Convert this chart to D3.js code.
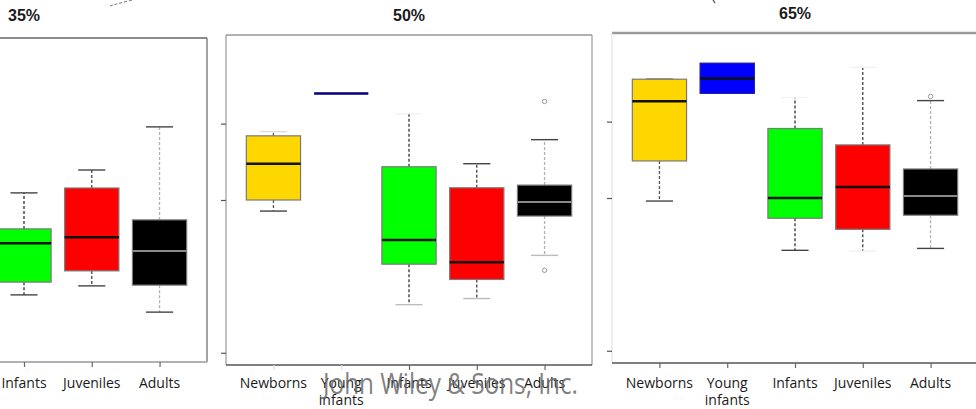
<!DOCTYPE html>
<html>
<head>
<meta charset="utf-8">
<script src="https://cdn.jsdelivr.net/npm/d3@7"></script>
<style>
  html, body { margin: 0; padding: 0; background: #fff; }
  svg { display: block; }
</style>
</head>
<body>
<svg id="chart" width="976" height="409"></svg>
<script>
// ---------------- DATA ----------------
const categories = ["Newborns", "Young infants", "Infants", "Juveniles", "Adults"];
const panelTitles = ["35%", "50%", "65%"];
const yTickValues = [0, 0.4, 0.6];

// 35% panel (first two groups lie outside the cropped picture)
const p35Low  = [null, null, 0.147, 0.171, 0.101];
const p35Q1   = [null, null, 0.181, 0.211, 0.173];
const p35Med  = [null, null, 0.285, 0.301, 0.264];
const p35Q3   = [null, null, 0.323, 0.432, 0.347];
const p35High = [null, null, 0.419, 0.480, 0.595];
const p35Out  = [[], [], [], [], []];

// 50% panel
const p50Low  = [0.371, 0.679, 0.126, 0.142, 0.255];
const p50Q1   = [0.400, 0.679, 0.232, 0.192, 0.358];
const p50Med  = [0.495, 0.679, 0.295, 0.237, 0.395];
const p50Q3   = [0.568, 0.679, 0.487, 0.432, 0.439];
const p50High = [0.579, 0.679, 0.626, 0.495, 0.558];
const p50Out  = [[], [], [], [], [0.658, 0.216]];

// 65% panel
const p65Low  = [0.392, 0.674, 0.263, 0.261, 0.268];
const p65Q1   = [0.497, 0.674, 0.347, 0.318, 0.355];
const p65Med  = [0.653, 0.713, 0.400, 0.429, 0.405];
const p65Q3   = [0.711, 0.753, 0.582, 0.539, 0.476];
const p65High = [0.711, 0.753, 0.663, 0.742, 0.655];
const p65Out  = [[], [], [], [], [0.666]];

const watermark = "John Wiley & Sons, Inc.";

// ---------------- STYLE / LAYOUT ----------------
const fills = ["#FFD700", "#0000FF", "#00FF00", "#FF0000", "#000000"];
const medianColor = ["#111", "#111", "#111", "#111", "#8a8a8a"];
const whiskerColor = ["#555", "#555", "#333", "#444", "#b0b0b0"];

const panels = [
  { title: panelTitles[0], left: -159, right: 207, top: 38, bottom: 362, titleY: 21,
    low: p35Low, q1: p35Q1, med: p35Med, q3: p35Q3, high: p35High, out: p35Out,
    frame: { top: "#666", left: "#666", right: "#666", bottom: "#999", topW: 1.3 } },
  { title: panelTitles[1], left: 226, right: 592, top: 35, bottom: 365, titleY: 21,
    low: p50Low, q1: p50Q1, med: p50Med, q3: p50Q3, high: p50High, out: p50Out,
    frame: { top: "#999", left: "#999", right: "#999", bottom: "#555", topW: 1.3 } },
  { title: panelTitles[2], left: 612, right: 978, top: 33, bottom: 363, titleY: 19,
    low: p65Low, q1: p65Q1, med: p65Med, q3: p65Q3, high: p65High, out: p65Out,
    frame: { top: "#9a9a9a", left: "#e2e2e2", right: "#999", bottom: "#555", topW: 2.5 } }
];

const svg = d3.select("#chart");

panels.forEach((p, pi) => {
  const x = d3.scaleLinear().domain([0.3, categories.length + 0.7]).range([p.left, p.right]);
  const y = d3.scaleLinear().domain([-0.032, 0.832]).range([p.bottom, p.top]);
  const g = svg.append("g");
  const unit = x(2) - x(1);
  const boxW = unit * 0.8;
  const capW = boxW * 0.5;

  // frame
  g.append("line").attr("x1", p.left).attr("x2", p.right).attr("y1", p.top).attr("y2", p.top)
    .attr("stroke", p.frame.top).attr("stroke-width", p.frame.topW);
  g.append("line").attr("x1", p.left).attr("x2", p.left).attr("y1", p.top).attr("y2", p.bottom)
    .attr("stroke", p.frame.left).attr("stroke-width", 1.2);
  g.append("line").attr("x1", p.right).attr("x2", p.right).attr("y1", p.top).attr("y2", p.bottom)
    .attr("stroke", p.frame.right).attr("stroke-width", 1.2);
  g.append("line").attr("x1", p.left).attr("x2", p.right).attr("y1", p.bottom).attr("y2", p.bottom)
    .attr("stroke", p.frame.bottom).attr("stroke-width", 1.4);

  // y axis ticks (labels are cropped away in the reference)
  const yAxis = d3.axisLeft(y).tickValues(yTickValues).tickSize(5).tickFormat("");
  const ya = g.append("g").attr("transform", `translate(${p.left},0)`).call(yAxis);
  ya.select(".domain").remove();
  ya.selectAll(".tick line").attr("stroke", "#555").attr("stroke-width", 1.2);

  // x axis ticks + labels
  const xa = g.append("g").attr("transform", `translate(0,${p.bottom})`)
    .call(d3.axisBottom(x).tickValues(d3.range(1, categories.length + 1)).tickSize(5).tickFormat(""));
  xa.select(".domain").remove();
  xa.selectAll(".tick line").attr("stroke", (d) => (pi === 1 && d <= 2) ? "#ddd" : "#666").attr("stroke-width", 1.2);

  categories.forEach((c, i) => {
    const words = c === "Young infants" ? ["Young", "infants"] : [c];
    const t = g.append("text").attr("x", x(i + 1)).attr("y", 388)
      .attr("text-anchor", "middle").attr("font-family", "Open Sans, sans-serif")
      .attr("font-size", 14).attr("fill", "#1a1a1a");
    words.forEach((w, k) => {
      t.append("tspan").attr("x", x(i + 1)).attr("dy", k === 0 ? 0 : 17).text(w);
    });
  });

  // boxes
  categories.forEach((c, i) => {
    if (p.q1[i] == null) return;
    const cx = x(i + 1);
    // whiskers
    if (p.high[i] > p.q3[i]) {
      g.append("line").attr("x1", cx).attr("x2", cx).attr("y1", y(p.q3[i])).attr("y2", y(p.high[i]))
        .attr("stroke", whiskerColor[i]).attr("stroke-width", 1.3).attr("stroke-dasharray", "3,2");
    }
    if (p.low[i] < p.q1[i]) {
      g.append("line").attr("x1", cx).attr("x2", cx).attr("y1", y(p.q1[i])).attr("y2", y(p.low[i]))
        .attr("stroke", whiskerColor[i]).attr("stroke-width", 1.3).attr("stroke-dasharray", "3,2");
    }
    // caps
    const upperCapFaint = (i === 2 && pi > 0) || (i === 3 && pi === 2);
    const lowerCapFaint = (i === 3 && pi === 2);
    if (p.high[i] > p.q3[i] || i === 0) {
      g.append("line").attr("x1", cx - capW / 2).attr("x2", cx + capW / 2)
        .attr("y1", y(p.high[i])).attr("y2", y(p.high[i]))
        .attr("stroke", upperCapFaint ? "#f2f2f2" : (i === 0 && pi === 1 ? "#ddd" : "#444"))
        .attr("stroke-width", 1.4);
    }
    if (p.low[i] < p.q1[i]) {
      g.append("line").attr("x1", cx - capW / 2).attr("x2", cx + capW / 2)
        .attr("y1", y(p.low[i])).attr("y2", y(p.low[i]))
        .attr("stroke", lowerCapFaint ? "#f2f2f2" : (pi === 1 && i >= 2 ? "#bbb" : "#444"))
        .attr("stroke-width", 1.4);
    }
    // box
    const top = y(p.q3[i]), bot = y(p.q1[i]);
    g.append("rect").attr("x", cx - boxW / 2).attr("y", top)
      .attr("width", boxW).attr("height", Math.max(0, bot - top))
      .attr("fill", fills[i])
      .attr("stroke", i === 1 ? "#1a1aa0" : "#7a7a7a")
      .attr("stroke-width", i === 1 && bot - top < 1 ? 3.5 : 1.2);
    // median
    g.append("line").attr("x1", cx - boxW / 2).attr("x2", cx + boxW / 2)
      .attr("y1", y(p.med[i])).attr("y2", y(p.med[i]))
      .attr("stroke", i === 1 && bot - top < 1 ? "#00007a" : medianColor[i])
      .attr("stroke-width", i === 4 ? 2 : 2.5);
    // outliers
    p.out[i].forEach((o) => {
      g.append("circle").attr("cx", cx).attr("cy", y(o)).attr("r", 2.2)
        .attr("fill", "none").attr("stroke", "#999").attr("stroke-width", 1);
    });
  });

  // title
  svg.append("text").attr("x", (p.left + p.right) / 2).attr("y", p.titleY)
    .attr("text-anchor", "middle").attr("font-family", "Liberation Sans, Arial, sans-serif")
    .attr("font-weight", "bold").attr("font-size", 16).attr("fill", "#1a1a1a").text(p.title);
});

// remnants of connectors above the panels
svg.append("path").attr("d", "M110,6 Q120,3 132,0").attr("fill", "none")
  .attr("stroke", "#666").attr("stroke-width", 1).attr("stroke-dasharray", "3,2");
svg.append("path").attr("d", "M713,0 L715,3").attr("fill", "none")
  .attr("stroke", "#444").attr("stroke-width", 1.2);

// watermark
svg.append("text").attr("x", 323).attr("y", 394)
  .attr("font-family", "Open Sans, sans-serif").attr("font-size", 29)
  .attr("fill", "#6a6a6a").attr("fill-opacity", 0.85)
  .attr("textLength", 255).attr("lengthAdjust", "spacingAndGlyphs")
  .text(watermark);
</script>
</body>
</html>
